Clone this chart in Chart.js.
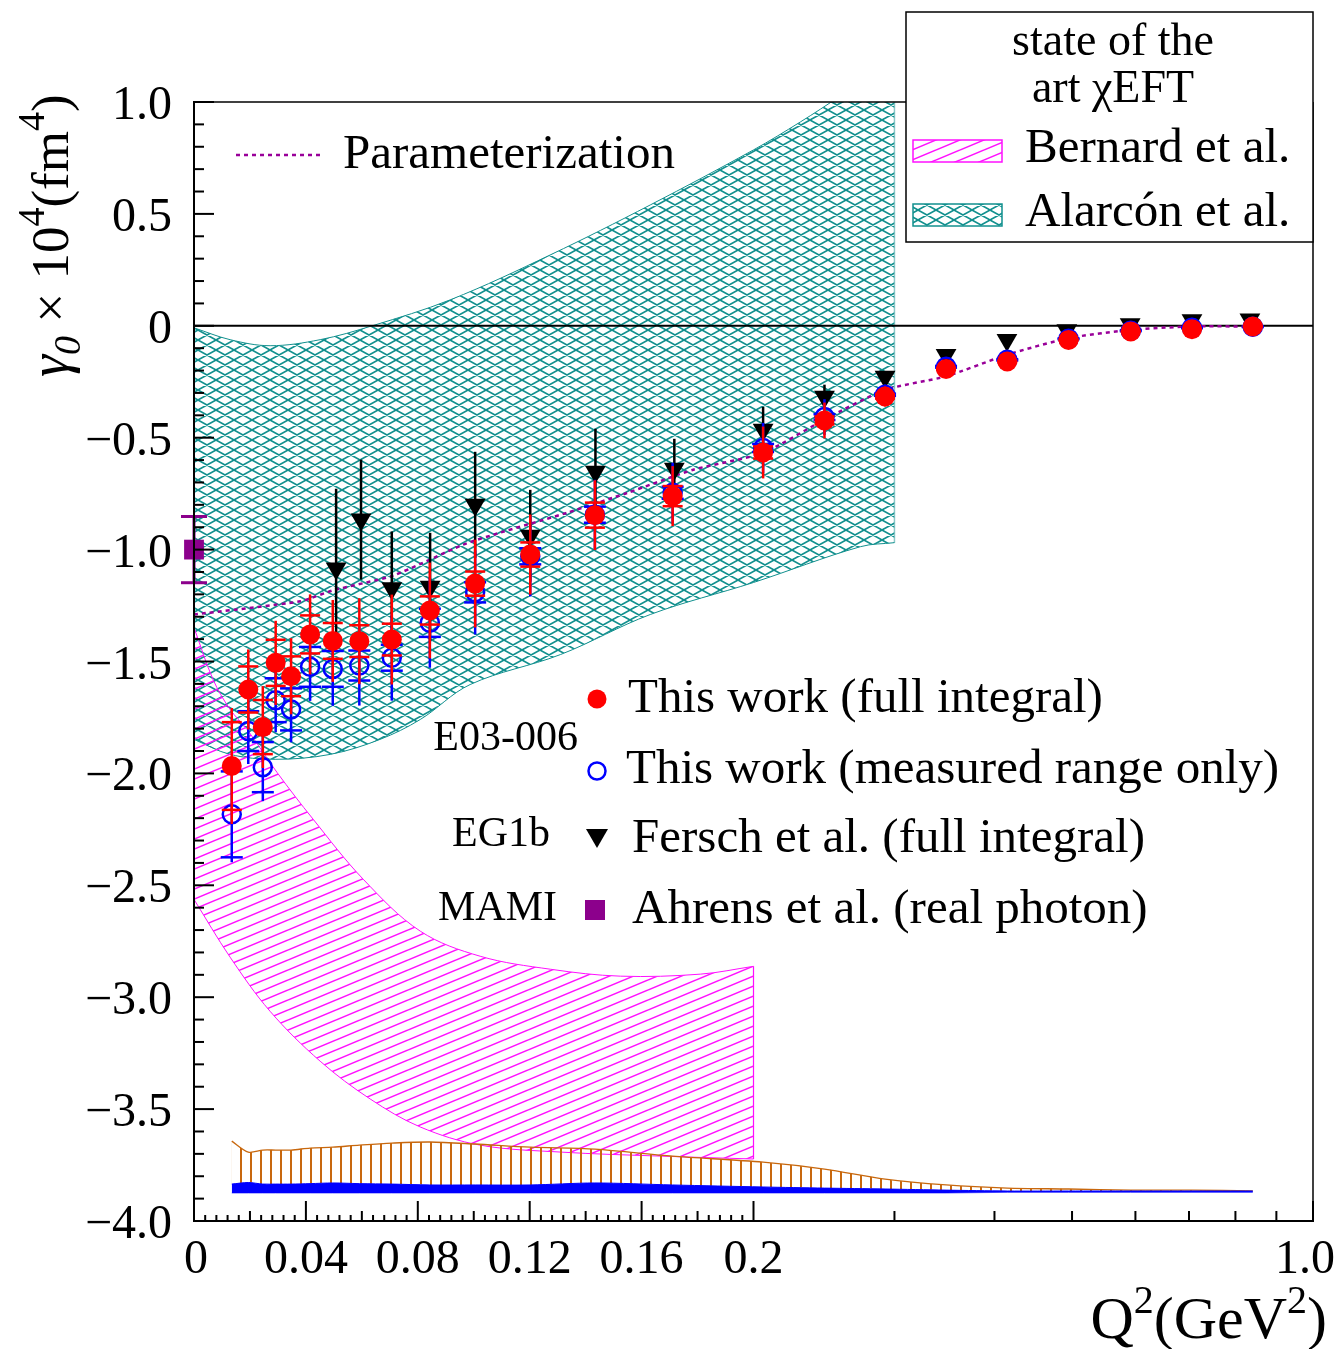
<!DOCTYPE html>
<html>
<head>
<meta charset="utf-8">
<script src="https://cdn.jsdelivr.net/npm/chart.js@4.4.1/dist/chart.umd.min.js"></script>
<style>
  html, body { margin: 0; padding: 0; background: #fff; }
</style>
</head>
<body>
<canvas id="gamma0" width="1338" height="1349"></canvas>
<script>
// values (Q^2 in GeV^2, gamma_0 in 10^-4 fm^4)
const q2Data = [0.0135, 0.0194, 0.0246, 0.0292, 0.0347, 0.0415, 0.0496, 0.0591, 0.0707, 0.0843, 0.1005, 0.1202, 0.1433, 0.1711, 0.2056, 0.2453, 0.292, 0.348, 0.415, 0.495, 0.592, 0.706, 0.841];
const gammaFull = [-1.967, -1.625, -1.793, -1.506, -1.566, -1.379, -1.408, -1.409, -1.402, -1.272, -1.152, -1.022, -0.846, -0.761, -0.566, -0.423, -0.316, -0.193, -0.159, -0.063, -0.025, -0.015, -0.003];
const errFull = [0.259, 0.179, 0.183, 0.188, 0.17, 0.179, 0.183, 0.192, 0.201, 0.214, 0.196, 0.179, 0.156, 0.134, 0.116, 0.08, 0.045, 0.018, 0.013, 0.009, 0.009, 0.004, 0.004];
const sysFull = [0.196, 0.103, 0.121, 0.103, 0.089, 0.085, 0.08, 0.071, 0.071, 0.063, 0.054, 0.054, 0.056, 0.045, 0.027, 0.018, 0.009, 0.005, 0.004, 0.003, 0.002, 0.002, 0.002];

const gammaMeas = [-2.183, -1.811, -1.972, -1.673, -1.714, -1.524, -1.533, -1.518, -1.483, -1.327, -1.191, -1.03, -0.844, -0.746, -0.546, -0.408, -0.308, -0.183, -0.152, -0.058, -0.022, -0.009, -0.004];
const errMeas = [0.214, 0.147, 0.152, 0.143, 0.147, 0.152, 0.165, 0.179, 0.192, 0.201, 0.188, 0.179, 0.156, 0.134, 0.112, 0.08, 0.045, 0.022, 0.01, 0.005, 0.005, 0.004, 0.004];
const sysMeas = [0.192, 0.089, 0.112, 0.098, 0.094, 0.089, 0.08, 0.067, 0.058, 0.063, 0.045, 0.036, 0.036, 0.027, 0.018, 0.013, 0.005, 0.004, 0.003, 0.002, 0.002, 0.002, 0.002];

const q2Eg1b = [0.0508, 0.0597, 0.0707, 0.0844, 0.1005, 0.1202, 0.1435, 0.1717, 0.2056, 0.2453, 0.292, 0.348, 0.4146, 0.4926, 0.591, 0.706, 0.834];
const gammaEg1b = [-1.085, -0.866, -1.173, -1.166, -0.8, -0.938, -0.652, -0.639, -0.465, -0.317, -0.228, -0.13, -0.064, -0.02, 0.007, 0.025, 0.028];
const errEg1b = [0.357, 0.268, 0.254, 0.241, 0.237, 0.205, 0.192, 0.134, 0.103, 0.054, 0.022, 0.009, 0.005, 0.004, 0.004, 0.004, 0.004];

const q2Mami = [0];
const gammaMami = [-1.0];
const errMami = [0.148];

const q2Param = [0, 0.038, 0.0497, 0.0712, 0.0962, 0.1095, 0.1335, 0.1548, 0.1785, 0.2056, 0.2472, 0.292, 0.348, 0.415, 0.495, 0.591, 0.706, 0.841];
const gammaParam = [-1.29, -1.231, -1.182, -1.116, -0.978, -0.924, -0.835, -0.747, -0.643, -0.568, -0.412, -0.286, -0.226, -0.129, -0.055, -0.018, -0.003, -0.003];

// Alarcon et al. band
const q2AlarconUp = [0, 0.0129, 0.0272, 0.0451, 0.0637, 0.0916, 0.1274, 0.1631, 0.2, 0.2289, 0.2568, 0.3];
const alarconUp = [-0.009, -0.062, -0.089, -0.062, 0, 0.116, 0.317, 0.54, 0.786, 0.911, 1.027, 1.19];
const q2AlarconLow = [0, 0.0129, 0.029, 0.0487, 0.0665, 0.0809, 0.0987, 0.131, 0.1631, 0.2, 0.272, 0.3];
const alarconLow = [-1.848, -1.915, -1.937, -1.915, -1.848, -1.759, -1.603, -1.469, -1.29, -1.147, -0.987, -0.969];

// Bernard et al. band
const q2BernardUp = [0, 0.0068, 0.0129, 0.019, 0.0297, 0.0426, 0.0605, 0.0809, 0.1023, 0.1274, 0.1524, 0.181, 0.2];
const bernardUp = [-1.348, -1.58, -1.714, -1.804, -1.996, -2.205, -2.473, -2.705, -2.817, -2.875, -2.906, -2.897, -2.862];
const q2BernardLow = [0, 0.0129, 0.0272, 0.0451, 0.063, 0.0809, 0.1023, 0.131, 0.1667, 0.2];
const bernardLow = [-2.563, -2.821, -3.063, -3.286, -3.455, -3.58, -3.661, -3.692, -3.71, -3.723];

// systematic-error bands at the bottom
const sysBandTop = [-3.643, -3.692, -3.683, -3.683, -3.683, -3.674, -3.67, -3.661, -3.652, -3.647, -3.656, -3.67, -3.679, -3.71, -3.737, -3.768, -3.813, -3.839, -3.853, -3.857, -3.862, -3.862, -3.866];
const sysBandMid = [-3.835, -3.828, -3.835, -3.835, -3.835, -3.833, -3.83, -3.833, -3.835, -3.839, -3.839, -3.839, -3.83, -3.839, -3.848, -3.853, -3.857, -3.862, -3.866, -3.866, -3.866, -3.866, -3.866];
const sysBandLow = [-3.875, -3.875, -3.875, -3.875, -3.875, -3.875, -3.875, -3.875, -3.875, -3.875, -3.875, -3.875, -3.875, -3.875, -3.875, -3.875, -3.875, -3.875, -3.872, -3.872, -3.872, -3.872, -3.872];

const yTickValues = [1, 0.5, 0, -0.5, -1, -1.5, -2, -2.5, -3, -3.5, -4];
const yTickLabels = ['1.0', '0.5', '0', '\u22120.5', '\u22121.0', '\u22121.5', '\u22122.0', '\u22122.5', '\u22123.0', '\u22123.5', '\u22124.0'];
const xTickValues = [0, 0.04, 0.08, 0.12, 0.16, 0.2, 1.0];
const xTickLabels = ['0', '0.04', '0.08', '0.12', '0.16', '0.2', '1.0'];

const Q2_BREAK = 0.2;
const Q2_MAX = 1.0;
const FONT = "'Liberation Serif', 'Times New Roman', serif";
const TEAL = '#12908e';
const PINK = '#ff10ff';
const ORANGE = '#c8680e';
const PURPLE = '#8c008c';

// linear up to 0.2, logarithmic from 0.2 to 1.0, each half of the axis
class HybridScale extends Chart.LinearScale {
    static id = 'hybrid';
    frac(v) {
        if (v <= Q2_BREAK) return 0.5 * v / Q2_BREAK;
        return 0.5 + 0.5 * Math.log(v / Q2_BREAK) / Math.log(Q2_MAX / Q2_BREAK);
    }
    getPixelForValue(v) {
        return this.left + this.frac(v) * this.width;
    }
    getValueForPixel(p) {
        const f = (p - this.left) / this.width;
        if (f <= 0.5) return 2 * f * Q2_BREAK;
        return Q2_BREAK * Math.pow(Q2_MAX / Q2_BREAK, (f - 0.5) / 0.5);
    }
}
Chart.register(HybridScale);

const canvas = document.getElementById('gamma0');
const mainCtx = canvas.getContext('2d');

function makePattern(w, h, color, lw, draw) {
    const c = document.createElement('canvas');
    c.width = w;
    c.height = h;
    const g = c.getContext('2d');
    g.strokeStyle = color;
    g.lineWidth = lw;
    g.beginPath();
    draw(g, w, h);
    g.stroke();
    return mainCtx.createPattern(c, 'repeat');
}

const tealHatch = makePattern(18, 10, TEAL, 1.6, (g, w, h) => {
    for (let dx = -w; dx <= w; dx += w) {
        g.moveTo(dx, 0); g.lineTo(dx + w, h);
        g.moveTo(dx, h); g.lineTo(dx + w, 0);
    }
});
const pinkHatch = makePattern(24, 10, PINK, 1.5, (g, w, h) => {
    for (let k = -1; k <= 1; k++) {
        g.moveTo(0, h + k * h); g.lineTo(w, k * h);
    }
});
const orangeHatch = makePattern(10, 4, ORANGE, 2, (g, w, h) => {
    g.moveTo(1, 0); g.lineTo(1, h);
});

function pts(xs, ys) {
    return xs.map((x, i) => ({ x: x, y: ys[i] }));
}

const datasets = [
    { // 0
        data: pts(q2AlarconUp, alarconUp), fill: 1, backgroundColor: tealHatch,
        borderColor: TEAL, borderWidth: 1, pointRadius: 0, tension: 0.35, order: 20
    },
    { // 1
        data: pts(q2AlarconLow, alarconLow), fill: false,
        borderColor: TEAL, borderWidth: 1, pointRadius: 0, tension: 0.35, order: 20
    },
    { // 2
        data: pts(q2BernardUp, bernardUp), fill: 3, backgroundColor: pinkHatch,
        borderColor: PINK, borderWidth: 1, pointRadius: 0, tension: 0.35, order: 19
    },
    { // 3
        data: pts(q2BernardLow, bernardLow), fill: false,
        borderColor: PINK, borderWidth: 1, pointRadius: 0, tension: 0.35, order: 19
    },
    { // 4 right edge of the Alarcon band
        data: [{ x: q2AlarconLow[q2AlarconLow.length - 1], y: alarconLow[alarconLow.length - 1] }, { x: 0.3, y: 1 }],
        borderColor: '#8cc8c8', borderWidth: 1.5, pointRadius: 0, order: 20
    },
    { // 5 right edge of the Bernard band
        data: [{ x: 0.2, y: bernardUp[bernardUp.length - 1] }, { x: 0.2, y: bernardLow[bernardLow.length - 1] }],
        borderColor: PINK, borderWidth: 1.2, pointRadius: 0, order: 19
    },
    { // 6
        data: pts(q2Data, sysBandTop), fill: 7, backgroundColor: orangeHatch,
        borderColor: ORANGE, borderWidth: 1.3, pointRadius: 0, tension: 0.3, order: 18
    },
    { // 7
        data: pts(q2Data, sysBandMid), fill: 8, backgroundColor: '#0000ff',
        borderColor: '#0000ff', borderWidth: 1, pointRadius: 0, tension: 0.3, order: 17
    },
    { // 8
        data: pts(q2Data, sysBandLow), fill: false,
        borderColor: '#6f6fff', borderWidth: 1, pointRadius: 0, order: 17
    },
    { // 9 zero line
        data: [{ x: 0, y: 0 }, { x: 1, y: 0 }],
        borderColor: '#000', borderWidth: 2, pointRadius: 0, order: 16
    },
    { // 10 parameterization
        data: pts(q2Param, gammaParam), borderColor: '#990099', borderWidth: 2.5,
        borderDash: [4, 4], pointRadius: 0, tension: 0.2, order: 15
    },
    { // 11 EG1b
        data: pts(q2Eg1b, gammaEg1b), showLine: false, pointStyle: 'triangle', pointRotation: 180,
        pointRadius: 12, backgroundColor: '#000', borderWidth: 0, order: 4,
        errorBar: { err: errEg1b, color: '#000', width: 2.5 }
    },
    { // 12 measured range only
        data: pts(q2Data, gammaMeas), showLine: false, pointStyle: 'circle', pointRadius: 9,
        backgroundColor: 'rgba(0,0,0,0)', borderColor: '#0000ff', borderWidth: 2.5, order: 3,
        errorBar: { err: errMeas, sys: sysMeas, color: '#0000ff', width: 2.5, cap: 11 }
    },
    { // 13 full integral
        data: pts(q2Data, gammaFull), showLine: false, pointStyle: 'circle', pointRadius: 10,
        backgroundColor: '#ff0000', borderWidth: 0, order: 2,
        errorBar: { err: errFull, sys: sysFull, color: '#ff0000', width: 2.5, cap: 10 }
    },
    { // 14 MAMI real photon
        data: pts(q2Mami, gammaMami), showLine: false, pointStyle: 'rect', pointRadius: 14,
        backgroundColor: PURPLE, borderWidth: 0, order: 1, clip: false,
        errorBar: { err: errMami, color: PURPLE, width: 3, endCap: 13 }
    }
];

function seg(ctx, x1, y1, x2, y2) {
    ctx.beginPath();
    ctx.moveTo(x1, y1);
    ctx.lineTo(x2, y2);
    ctx.stroke();
}

const errorBars = {
    id: 'errorBars',
    beforeDatasetDraw(chart, args) {
        const ds = chart.data.datasets[args.index];
        if (!ds.errorBar) return;
        const { ctx, scales: { x, y } } = chart;
        const eb = ds.errorBar;
        ctx.save();
        ctx.strokeStyle = eb.color;
        ctx.lineWidth = eb.width;
        ds.data.forEach((p, i) => {
            const px = x.getPixelForValue(p.x);
            const top = y.getPixelForValue(p.y + eb.err[i]);
            const bot = y.getPixelForValue(p.y - eb.err[i]);
            seg(ctx, px, top, px, bot);
            if (eb.endCap) {
                seg(ctx, px - eb.endCap, top, px + eb.endCap, top);
                seg(ctx, px - eb.endCap, bot, px + eb.endCap, bot);
            }
            if (eb.sys) {
                const st = y.getPixelForValue(p.y + eb.sys[i]);
                const sb = y.getPixelForValue(p.y - eb.sys[i]);
                seg(ctx, px - eb.cap, st, px + eb.cap, st);
                seg(ctx, px - eb.cap, sb, px + eb.cap, sb);
            }
        });
        ctx.restore();
    }
};

function textRun(ctx, parts, x, y) {
    // parts: [text, size, dy, italic]
    let cx = x;
    parts.forEach(([t, size, dy, italic]) => {
        ctx.font = (italic ? 'italic ' : '') + size + 'px ' + FONT;
        ctx.fillText(t, cx, y + dy);
        cx += ctx.measureText(t).width;
    });
    return cx - x;
}

function runWidth(ctx, parts) {
    let w = 0;
    parts.forEach(([t, size, dy, italic]) => {
        ctx.font = (italic ? 'italic ' : '') + size + 'px ' + FONT;
        w += ctx.measureText(t).width;
    });
    return w;
}

const frame = {
    id: 'frame',
    afterDraw(chart) {
        const { ctx, chartArea: a, scales: { x, y } } = chart;
        ctx.save();
        ctx.strokeStyle = '#000';
        ctx.fillStyle = '#000';

        // frame
        ctx.lineWidth = 1.5;
        seg(ctx, a.left, a.top, a.right, a.top);
        seg(ctx, a.right, a.top, a.right, a.bottom);
        ctx.lineWidth = 2;
        seg(ctx, a.left, a.top - 1, a.left, a.bottom + 1);
        seg(ctx, a.left - 1, a.bottom, a.right + 1, a.bottom);

        // y ticks
        for (let k = 0; k <= 50; k++) {
            const v = -4 + k * 0.1;
            const py = y.getPixelForValue(v);
            seg(ctx, a.left, py, a.left + (k % 5 === 0 ? 20 : 10), py);
        }
        // x ticks, linear part
        for (let k = 0; k <= 50; k++) {
            const px = x.getPixelForValue(k * 0.004);
            const len = k % 10 === 0 ? 20 : (k % 5 === 0 ? 10 : 6);
            seg(ctx, px, a.bottom, px, a.bottom - len);
        }
        // x ticks, log part
        [0.3, 0.4, 0.5, 0.6, 0.7, 0.8, 0.9].forEach(v => {
            const px = x.getPixelForValue(v);
            seg(ctx, px, a.bottom, px, a.bottom - 10);
        });
        seg(ctx, x.getPixelForValue(1), a.bottom, x.getPixelForValue(1), a.bottom - 20);

        // tick labels
        ctx.font = '48px ' + FONT;
        ctx.textAlign = 'right';
        ctx.textBaseline = 'alphabetic';
        yTickValues.forEach((v, i) => {
            ctx.fillText(yTickLabels[i], a.left - 22, y.getPixelForValue(v) + 17);
        });
        ctx.textAlign = 'center';
        xTickValues.forEach((v, i) => {
            let px = x.getPixelForValue(v);
            if (i === 0) px += 2;
            if (v === 1) px -= 8;
            ctx.fillText(xTickLabels[i], px, a.bottom + 52);
        });

        // axis titles
        ctx.textAlign = 'left';
        const xTitle = [['Q', 60, 0], ['2', 40, -25], ['(GeV', 60, 0], ['2', 40, -25], [')', 60, 0]];
        const xw = runWidth(ctx, xTitle);
        textRun(ctx, xTitle, 1327 - xw, 1338);

        ctx.save();
        ctx.translate(68, 377);
        ctx.rotate(-Math.PI / 2);
        textRun(ctx, [['\u03b3', 56, 0, true], ['0', 38, 12, true], [' \u00d7 10', 53, 0], ['4', 38, -24],
            ['(fm', 53, 0], ['4', 38, -24], [')', 53, 0]], 0, 0);
        ctx.restore();

        // parameterization legend
        ctx.strokeStyle = '#990099';
        ctx.lineWidth = 2.5;
        ctx.setLineDash([4, 4]);
        seg(ctx, 236, 155, 322, 155);
        ctx.setLineDash([]);
        ctx.font = '49px ' + FONT;
        ctx.fillText('Parameterization', 343, 168);

        // data legend
        ctx.fillStyle = '#ff0000';
        ctx.beginPath(); ctx.arc(597, 699, 9.5, 0, Math.PI * 2); ctx.fill();
        ctx.strokeStyle = '#0000ff';
        ctx.lineWidth = 2.5;
        ctx.beginPath(); ctx.arc(597, 771, 8.5, 0, Math.PI * 2); ctx.stroke();
        ctx.fillStyle = '#000';
        ctx.beginPath(); ctx.moveTo(586, 829); ctx.lineTo(608, 829); ctx.lineTo(597, 848); ctx.closePath(); ctx.fill();
        ctx.fillStyle = PURPLE;
        ctx.fillRect(585, 900, 20, 20);
        ctx.fillStyle = '#000';
        ctx.font = '49px ' + FONT;
        ctx.fillText('This work (full integral)', 628, 712);
        ctx.fillText('This work (measured range only)', 626, 783);
        ctx.fillText('Fersch et al. (full integral)', 632, 852);
        ctx.fillText('Ahrens et al. (real photon)', 632, 923);
        ctx.font = '42px ' + FONT;
        ctx.textAlign = 'right';
        ctx.fillText('E03-006', 578, 750);
        ctx.fillText('EG1b', 550, 846);
        ctx.fillText('MAMI', 557, 920);

        // theory legend box
        ctx.fillStyle = '#fff';
        ctx.fillRect(906, 12, 407, 230);
        ctx.strokeStyle = '#000';
        ctx.lineWidth = 1.5;
        ctx.strokeRect(906, 12, 407, 230);
        ctx.fillStyle = '#000';
        ctx.textAlign = 'center';
        ctx.font = '46px ' + FONT;
        ctx.fillText('state of the', 1113, 55);
        ctx.fillText('art \u03c7EFT', 1113, 102);
        ctx.textAlign = 'left';
        ctx.font = '49px ' + FONT;
        ctx.fillText('Bernard et al.', 1025, 162);
        ctx.fillText('Alarc\u00f3n et al.', 1025, 226);

        ctx.fillStyle = pinkHatch;
        ctx.fillRect(913, 140, 89, 22);
        ctx.strokeStyle = PINK;
        ctx.lineWidth = 1.5;
        ctx.strokeRect(913, 140, 89, 22);
        ctx.fillStyle = tealHatch;
        ctx.fillRect(913, 204, 89, 22);
        ctx.strokeStyle = TEAL;
        ctx.strokeRect(913, 204, 89, 22);

        ctx.restore();
    }
};

new Chart(canvas, {
    type: 'line',
    data: { datasets: datasets },
    options: {
        responsive: false,
        devicePixelRatio: 1,
        animation: false,
        events: [],
        layout: { padding: { left: 194, right: 25, top: 102, bottom: 128 } },
        plugins: {
            legend: { display: false },
            tooltip: { enabled: false },
            filler: { propagate: false }
        },
        scales: {
            x: { type: 'hybrid', min: 0, max: Q2_MAX, display: false },
            y: { type: 'linear', min: -4, max: 1, display: false }
        }
    },
    plugins: [errorBars, frame]
});
</script>
</body>
</html>
